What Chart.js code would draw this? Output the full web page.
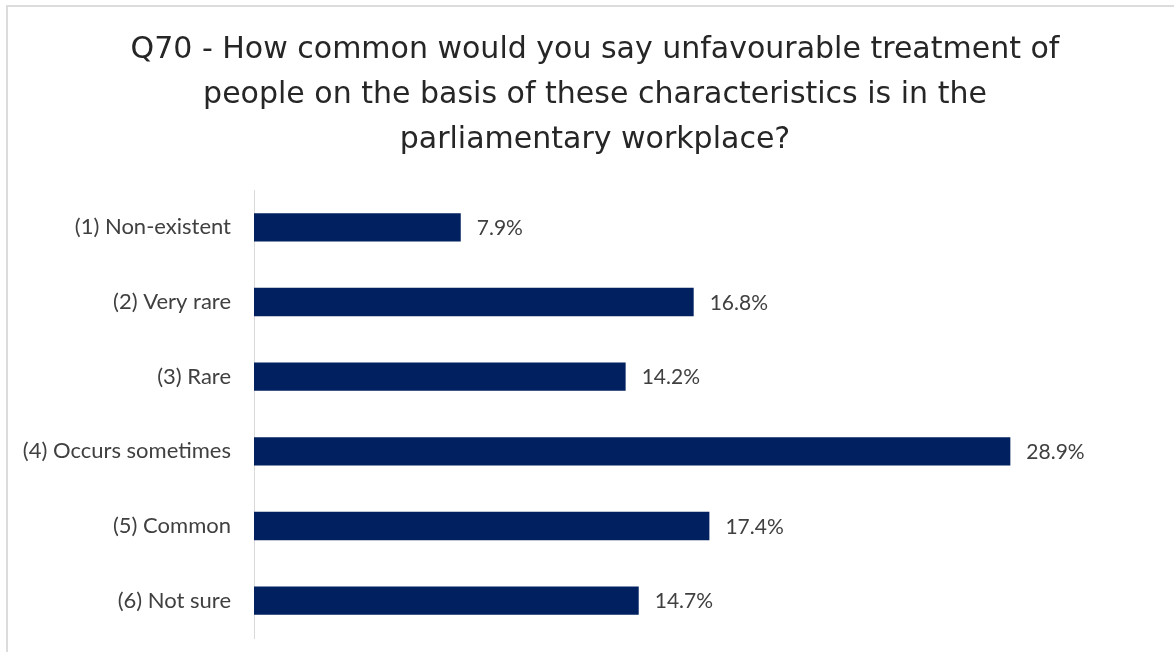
<!DOCTYPE html>
<html>
<head>
<meta charset="utf-8">
<script src="https://cdn.jsdelivr.net/npm/chart.js@4/dist/chart.umd.min.js"></script>
<style>
  body { margin: 0; background: #fff; overflow: hidden; }
  #frame { position: absolute; left: 6px; top: 5px; width: 1180px; height: 660px; border: 2px solid #dcdcdc; box-sizing: border-box; }
  #barChart { position: absolute; left: 0; top: 0; }
</style>
</head>
<body>
<div id="frame"></div>
<canvas id="barChart" width="1174" height="652"></canvas>
<script>
// Categorieën en waarden (in procenten)
const categories = ['(1) Non-existent', '(2) Very rare', '(3) Rare', '(4) Occurs sometimes', '(5) Common', '(6) Not sure'];
const values = [7.9, 16.8, 14.2, 28.9, 17.4, 14.7];
const titleLines = [
    'Q70 - How common would you say unfavourable treatment of',
    'people on the basis of these characteristics is in the',
    'parliamentary workplace?'
];

// Plugin om de percentages naast de balken te tekenen
const valueLabels = {
    id: 'valueLabels',
    afterDatasetsDraw(chart) {
        const ctx = chart.ctx;
        const meta = chart.getDatasetMeta(0);
        ctx.save();
        ctx.font = '21px Lato, "Open Sans", sans-serif';
        ctx.fillStyle = '#404040';
        ctx.textAlign = 'left';
        ctx.textBaseline = 'middle';
        meta.data.forEach((bar, i) => {
            ctx.fillText(values[i].toFixed(1) + '%', bar.x + 16, bar.y + 1);
        });
        ctx.restore();
    }
};

const ctx = document.getElementById('barChart').getContext('2d');
const barChart = new Chart(ctx, {
    type: 'bar',
    data: {
        labels: categories,
        datasets: [{
            data: values,
            backgroundColor: '#002060',
            barPercentage: 0.38,
            categoryPercentage: 1
        }]
    },
    options: {
        indexAxis: 'y',
        responsive: false,
        animation: false,
        layout: {
            padding: { left: 20, right: 4, top: 28, bottom: 14 }
        },
        plugins: {
            legend: { display: false },
            tooltip: { enabled: false },
            title: {
                display: true,
                text: titleLines,
                color: '#262626',
                font: { family: '"DejaVu Sans", sans-serif', size: 30, weight: 'normal', lineHeight: 1.5 },
                padding: { top: 0, bottom: 27 }
            }
        },
        scales: {
            x: {
                display: false,
                min: 0,
                max: 35
            },
            y: {
                grid: { display: false },
                border: { display: true, color: '#d9d9d9', width: 1 },
                ticks: {
                    color: '#404040',
                    font: { family: 'Lato, "Open Sans", sans-serif', size: 22 },
                    padding: 15
                },
                afterFit(scale) {
                    scale.width = 234;
                    scale.paddingTop = 0;
                    scale.paddingBottom = 0;
                }
            }
        }
    },
    plugins: [valueLabels]
});
</script>
</body>
</html>
